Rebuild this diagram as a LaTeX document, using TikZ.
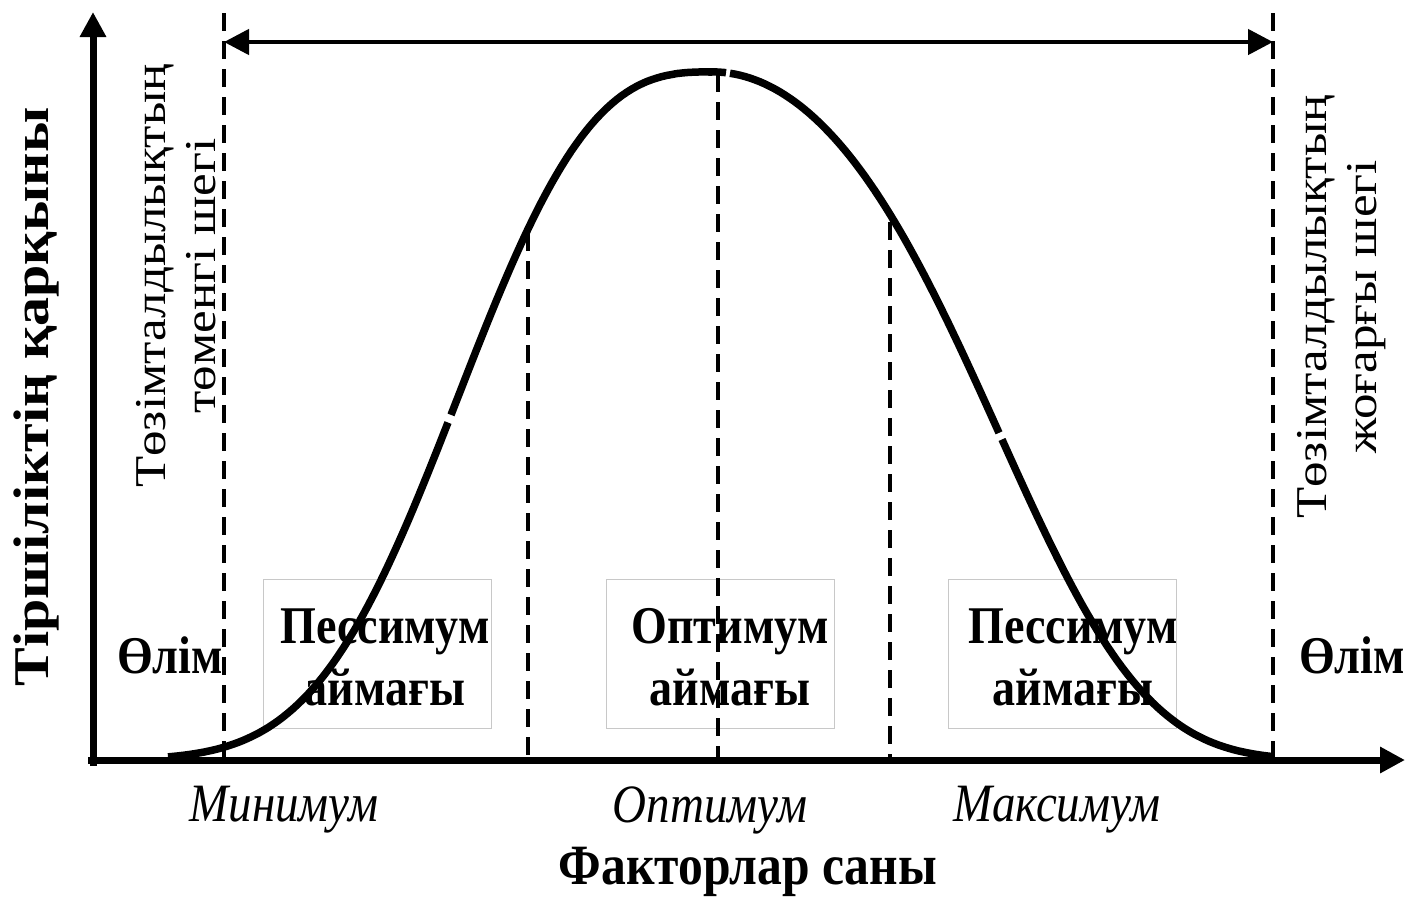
\documentclass[tikz,border=0pt]{standalone}
\usepackage{fontspec}
\setmainfont{Liberation Serif}[FakeStretch=0.87]
\newfontfamily\longfont{Liberation Serif}[FakeStretch=1.16]
\usetikzlibrary{arrows.meta, positioning}
\definecolor{zoneedge}{HTML}{C8C8C8}
\definecolor{inkblack}{HTML}{000000}

\begin{document}
\begin{tikzpicture}[
    x=1pt, y=-1pt,
    >={Triangle[length=25pt, width=25pt]},
    declare function={
        bellL(\x)=760-688*exp(-((712-\x+0.01)/298)^2.8);
        bellR(\x)=760-688*exp(-((\x-712)/400)^2-((\x-712)/415)^4);
    },
    axis/.style={->, draw=inkblack, line width=7pt},
    spanarrow/.style={<->, draw=inkblack, line width=4.5pt},
    limitline/.style={draw=inkblack, line width=4.5pt, dash pattern=on 18pt off 10pt},
    bellcurve/.style={draw=inkblack, line width=7.5pt},
    zonebox/.style={
        draw=zoneedge, fill=white, line width=1pt,
        minimum width=228pt, minimum height=149pt
    },
    zonetext/.style={font=\fontsize{53}{62}\selectfont\bfseries, align=center},
    deathtext/.style={font=\fontsize{53}{60}\selectfont\bfseries},
    ticktext/.style={font=\fontsize{54}{60}\selectfont\itshape},
    axistitle/.style={font=\fontsize{57}{64}\selectfont\bfseries},
    ytitlestyle/.style={font=\longfont\fontsize{50}{56}\selectfont\bfseries},
    limittext/.style={font=\longfont\fontsize{44}{50}\selectfont, align=center},
]
\useasboundingbox (0,0) rectangle (1406,903);

% ===================================================================
% ZONES
% ===================================================================
\node[zonebox] (pessLbox) at (377,654) {};
\node[zonebox] (optbox)   at (720,654) {};
\node[zonebox] (pessRbox) at (1062,654) {};

\node[zonetext] (pessL) at ([xshift=8pt, yshift=-3pt]pessLbox.center) {Пессимум\\аймағы};
\node[zonetext] (opt)   at ([xshift=10pt, yshift=-3pt]optbox.center)  {Оптимум\\аймағы};
\node[zonetext] (pessR) at ([xshift=11pt, yshift=-3pt]pessRbox.center) {Пессимум\\аймағы};

\node[deathtext] (deathL) at (170,655) {Өлім};
\node[deathtext] (deathR) at (1352,655) {Өлім};

% ===================================================================
% AXES
% ===================================================================
\coordinate (origin) at (93,760);
\coordinate (ytop)   at (93,12);
\coordinate (xleft)  at (88,760);
\coordinate (xend)   at (1405,760);

\draw[axis] (origin |- 0,766) -- (ytop);
\draw[axis] (xleft) -- (xend);

% Axis labels
\node[ticktext] (minlab) at (284,810) {Минимум};
\node[ticktext] (optlab) at (710,810) {Оптимум};
\node[ticktext] (maxlab) at (1057,810) {Максимум};

\node[axistitle] (xtitle) at (748,872) {Факторлар саны};
\node[ytitlestyle, rotate=90] (ytitle) at (36,397) {Тіршіліктің қарқыны};

% ===================================================================
% TOLERANCE LIMITS
% ===================================================================
\coordinate (lowTop)  at (224,13);
\coordinate (lowBot)  at (224,757);
\coordinate (highTop) at (1273,13);
\coordinate (highBot) at (1273,757);

\draw[limitline] (lowTop) -- (lowBot);
\draw[limitline] (highTop) -- (highBot);
\draw[spanarrow] (lowTop |- 0,42) -- (highTop |- 0,42);

\node[limittext, rotate=90] (lowlim)  at (176,276) {Төзімталдылықтың\\төменгі шегі};
\node[limittext, rotate=90] (highlim) at (1342,307) {Төзімталдылықтың\\жоғарғы шегі};

% Zone borders
\coordinate (pessLTop) at (528,{bellL(528)+4});
\coordinate (pessLBot) at (528,760);
\coordinate (optTop)   at (718,74);
\coordinate (optBot)   at (718,760);
\coordinate (pessRTop) at (890,{bellR(890)+8});
\coordinate (pessRBot) at (890,760);

\draw[limitline] (pessLTop) -- (pessLBot);
\draw[limitline] (optTop) -- (optBot);
\draw[limitline] (pessRTop) -- (pessRBot);

% ===================================================================
% CURVE
% ===================================================================
\draw[bellcurve] plot[domain=168:448, samples=57] (\x,{bellL(\x)});
\draw[bellcurve] plot[domain=451:712, samples=53] (\x,{bellL(\x)})
    -- plot[domain=712:726, samples=8] (\x,{bellR(\x)});
\draw[bellcurve] plot[domain=730:999, samples=55] (\x,{bellR(\x)});
\draw[bellcurve] plot[domain=1002:1273, samples=55] (\x,{bellR(\x)});

\end{tikzpicture}
\end{document}
